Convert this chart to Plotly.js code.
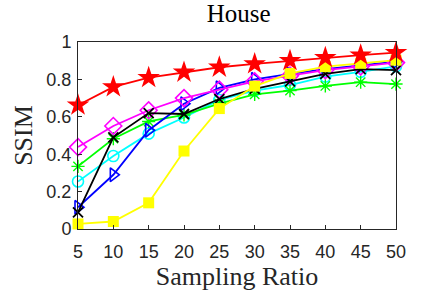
<!DOCTYPE html>
<html><head><meta charset="utf-8">
<script src="https://cdn.plot.ly/plotly-3.0.1.min.js"></script>
<style>body{margin:0;padding:0;background:#fff}</style>
</head><body>
<div id="chart" style="width:438px;height:297px"></div>
<script>
const ratios = [5, 10, 15, 20, 25, 30, 35, 40, 45, 50];
const cyanCircle = [0.254, 0.39, 0.51, 0.596, 0.69, 0.74, 0.77, 0.815, 0.84, 0.87];
const greenStar = [0.335, 0.483, 0.575, 0.61, 0.67, 0.72, 0.74, 0.765, 0.785, 0.775];
const blueTri = [0.116, 0.29, 0.528, 0.67, 0.755, 0.8, 0.83, 0.855, 0.875, 0.895];
const magentaDiamond = [0.438, 0.551, 0.635, 0.7, 0.745, 0.79, 0.82, 0.85, 0.87, 0.89];
const blackX = [0.089, 0.49, 0.62, 0.615, 0.695, 0.75, 0.79, 0.83, 0.855, 0.85];
const yellowSquare = [0.027, 0.04, 0.14, 0.417, 0.644, 0.764, 0.832, 0.868, 0.886, 0.903];
const redStar = [0.662, 0.76, 0.809, 0.838, 0.865, 0.883, 0.9, 0.916, 0.93, 0.943];
const xTicks = [5, 10, 15, 20, 25, 30, 35, 40, 45, 50];
const yTicks = [0, 0.2, 0.4, 0.6, 0.8, 1];
const yTickText = ['0', '0.2', '0.4', '0.6', '0.8', '1'];

function tr(y, color, symbol, size, lw) {
  return {
    x: ratios, y: y, type: 'scatter', mode: 'lines+markers',
    line: {color: color, width: 1.8},
    marker: {symbol: symbol, size: size, color: color,
             line: {color: color, width: lw}},
    showlegend: false, cliponaxis: false
  };
}
const data = [
  tr(cyanCircle, '#00ffff', 'circle-open', 11, 1.6),
  tr(greenStar, '#00ff00', 'asterisk-open', 11, 1.4),
  tr(blueTri, '#0000ff', 'triangle-right-open', 12, 1.6),
  tr(magentaDiamond, '#ff00ff', 'diamond-open', 13, 1.6),
  tr(blackX, '#000000', 'x-thin-open', 10, 1.8),
  tr(yellowSquare, '#ffff00', 'square', 11, 0),
  tr(redStar, '#ff0000', 'star', 17, 0)
];

const serif = 'Liberation Serif, Times New Roman, serif';
const sans = 'Liberation Sans, Arial, sans-serif';
const layout = {
  width: 438, height: 297,
  margin: {l: 78, r: 42, t: 42, b: 68},
  paper_bgcolor: '#fff', plot_bgcolor: '#fff',
  title: {text: 'House', x: 0.545, xanchor: 'center', y: 0.985, yanchor: 'top',
          font: {family: serif, size: 25, color: '#000'}},
  xaxis: {
    range: [5, 50], tickvals: xTicks, ticktext: xTicks.map(String),
    ticks: 'inside', ticklen: 4, tickcolor: '#262626', showgrid: false, zeroline: false,
    showline: true, linecolor: '#262626', linewidth: 1, mirror: true,
    ticklabelstandoff: 6,
    tickfont: {family: sans, size: 18, color: '#262626'},
    title: {text: 'Sampling Ratio', standoff: 5,
            font: {family: serif, size: 26, color: '#262626'}}
  },
  yaxis: {
    range: [0, 1], tickvals: yTicks, ticktext: yTickText,
    ticks: 'inside', ticklen: 4, tickcolor: '#262626', showgrid: false, zeroline: false,
    showline: true, linecolor: '#262626', linewidth: 1, mirror: true,
    ticklabelstandoff: 2,
    tickfont: {family: sans, size: 18, color: '#262626'},
    title: {text: 'SSIM', standoff: 6,
            font: {family: serif, size: 26, color: '#262626'}}
  }
};
Plotly.newPlot('chart', data, layout, {displayModeBar: false, staticPlot: true});
</script>
</body></html>
